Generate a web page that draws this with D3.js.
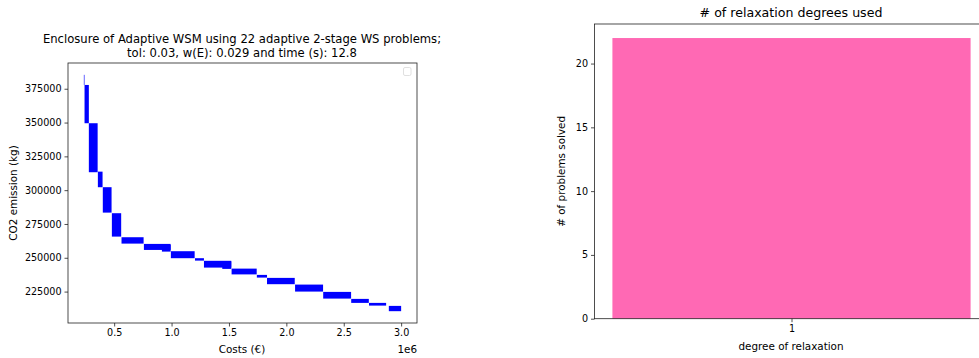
<!DOCTYPE html>
<html>
<head>
<meta charset="utf-8">
<script src="https://cdn.jsdelivr.net/npm/d3@7"></script>
<style>
  body { margin: 0; background: #fff; }
  svg text { font-family: "DejaVu Sans", sans-serif; fill: #000; }
</style>
</head>
<body>
<div id="GraphHolder"></div>
<script>
// enclosure boxes: cost low / cost high, co2 high / co2 low
var costLow  = [236000, 241900, 279400, 358000, 401000, 480000, 564000, 759000, 915900, 994000, 1204000, 1282200, 1441800, 1523000, 1743000, 1831500, 2076000, 2321000, 2565000, 2720000, 2892800];
var costHigh = [239000, 279400, 356000, 398850, 477300, 561040, 756400, 991800, 991800, 1201100, 1282200, 1520200, 1520200, 1741700, 1831500, 2073100, 2319900, 2564000, 2718400, 2869200, 3000000];
var co2High  = [385300, 377800, 349500, 313700, 302200, 282960, 265200, 260260, 259520, 254860, 249690, 247760, 247320, 241990, 237340, 235130, 230180, 224770, 219600, 216640, 214420];
var co2Low   = [377800, 349500, 313270, 302180, 283400, 265660, 260480, 255800, 254560, 249690, 247910, 242740, 241780, 237710, 235350, 230470, 225000, 219820, 216640, 214640, 210510];

var costTicks = [500000, 1000000, 1500000, 2000000, 2500000, 3000000];
var co2Ticks = [225000, 250000, 275000, 300000, 325000, 350000, 375000];

// relaxation degrees histogram
var degrees = [1];
var problemsSolved = [22];
var countTicks = [0, 5, 10, 15, 20];

var W = 979, H = 358;
var svg = d3.select("#GraphHolder").append("svg")
    .attr("width", W)
    .attr("height", H);

// ---------- left chart ----------
var m1 = {left: 68, top: 63, right: 417, bottom: 323};

function padded(lo, hi) {
    var r = hi - lo;
    return [lo - 0.05 * r, hi + 0.05 * r];
}

var x1 = d3.scaleLinear()
    .domain(padded(d3.min(costLow), d3.max(costHigh)))
    .range([m1.left, m1.right]);
var y1 = d3.scaleLinear()
    .domain(padded(d3.min(co2Low), d3.max(co2High)))
    .range([m1.bottom, m1.top]);

var boxes = costLow.map(function(d, i) {
    return {x0: d, x1: costHigh[i], y0: co2Low[i], y1: co2High[i]};
});

var g1 = svg.append("g");

g1.append("g")
    .selectAll(".box")
    .data(boxes)
    .enter().append("rect")
    .attr("class", "box")
    .attr("x", function(d) { return x1(d.x0); })
    .attr("width", function(d) { return Math.max(0.6, x1(d.x1) - x1(d.x0)); })
    .attr("y", function(d) { return y1(d.y1); })
    .attr("height", function(d) { return y1(d.y0) - y1(d.y1); })
    .style("fill", "#0000ff");

var xAxis1 = d3.axisBottom(x1)
    .tickValues(costTicks)
    .tickSize(3.5)
    .tickPadding(3)
    .tickFormat(function(d) { return (d / 1e6).toFixed(1); });
var yAxis1 = d3.axisLeft(y1)
    .tickValues(co2Ticks)
    .tickSize(3.5)
    .tickPadding(3)
    .tickFormat(d3.format("d"));

g1.append("g")
    .attr("class", "xaxis")
    .attr("transform", "translate(0," + m1.bottom + ")")
    .call(xAxis1);
g1.append("g")
    .attr("class", "yaxis")
    .attr("transform", "translate(" + m1.left + ",0)")
    .call(yAxis1);

// frame
g1.append("rect")
    .attr("x", m1.left).attr("y", m1.top)
    .attr("width", m1.right - m1.left).attr("height", m1.bottom - m1.top)
    .style("fill", "none").style("stroke", "#222").style("stroke-width", 0.8);

// empty legend
g1.append("rect")
    .attr("x", 403.5).attr("y", 67.5).attr("width", 7.5).attr("height", 8)
    .attr("rx", 1.5)
    .style("fill", "#fff").style("stroke", "#d8d8d8").style("stroke-width", 0.8);

g1.append("text")
    .attr("x", 242).attr("y", 43)
    .attr("text-anchor", "middle")
    .style("font-size", "11.6px")
    .text("Enclosure of Adaptive WSM using 22 adaptive 2-stage WS problems;");
g1.append("text")
    .attr("x", 242).attr("y", 56.5)
    .attr("text-anchor", "middle")
    .style("font-size", "11.6px")
    .text("tol: 0.03, w(E): 0.029 and time (s): 12.8");

g1.append("text")
    .attr("x", 242).attr("y", 353)
    .attr("text-anchor", "middle")
    .style("font-size", "10.4px")
    .text("Costs (€)");
g1.append("text")
    .attr("x", 417).attr("y", 353)
    .attr("text-anchor", "end")
    .style("font-size", "10.4px")
    .text("1e6");
g1.append("text")
    .attr("transform", "translate(17," + ((m1.top + m1.bottom) / 2) + ") rotate(-90)")
    .attr("text-anchor", "middle")
    .style("font-size", "10.4px")
    .text("CO2 emission (kg)");

// ---------- right chart ----------
var m2 = {left: 594.5, top: 24, right: 988.5, bottom: 318.7};

var x2 = d3.scaleLinear()
    .domain([d3.min(degrees) - 0.44, d3.max(degrees) + 0.44])
    .range([m2.left, m2.right]);
var y2 = d3.scaleLinear()
    .domain([0, d3.max(problemsSolved) * 1.05])
    .range([m2.bottom, m2.top]);

var g2 = svg.append("g");

g2.selectAll(".bar")
    .data(degrees)
    .enter().append("rect")
    .attr("class", "bar")
    .attr("x", function(d) { return x2(d - 0.4); })
    .attr("width", function(d) { return x2(d + 0.4) - x2(d - 0.4); })
    .attr("y", function(d, i) { return y2(problemsSolved[i]); })
    .attr("height", function(d, i) { return y2(0) - y2(problemsSolved[i]); })
    .style("fill", "#ff69b4");

g2.append("g")
    .attr("class", "xaxis")
    .attr("transform", "translate(0," + m2.bottom + ")")
    .call(d3.axisBottom(x2).tickValues(degrees).tickSize(3.5).tickPadding(3).tickFormat(d3.format("d")));
g2.append("g")
    .attr("class", "yaxis")
    .attr("transform", "translate(" + m2.left + ",0)")
    .call(d3.axisLeft(y2).tickValues(countTicks).tickSize(3.5).tickPadding(3).tickFormat(d3.format("d")));

g2.append("rect")
    .attr("x", m2.left).attr("y", m2.top)
    .attr("width", m2.right - m2.left).attr("height", m2.bottom - m2.top)
    .style("fill", "none").style("stroke", "#222").style("stroke-width", 0.8);

g2.append("text")
    .attr("x", 791).attr("y", 17)
    .attr("text-anchor", "middle")
    .style("font-size", "12.6px")
    .text("# of relaxation degrees used");
g2.append("text")
    .attr("x", 791).attr("y", 349.5)
    .attr("text-anchor", "middle")
    .style("font-size", "10.4px")
    .text("degree of relaxation");
g2.append("text")
    .attr("transform", "translate(565," + ((m2.top + m2.bottom) / 2) + ") rotate(-90)")
    .attr("text-anchor", "middle")
    .style("font-size", "10.4px")
    .text("# of problems solved");

// axis styling like matplotlib
svg.selectAll(".domain").remove();
svg.selectAll(".tick line").style("stroke", "#222").style("stroke-width", 0.8);
svg.selectAll(".tick text").style("font-size", "9.6px").style("font-family", "DejaVu Sans, sans-serif").style("fill", "#000");
</script>
</body>
</html>
